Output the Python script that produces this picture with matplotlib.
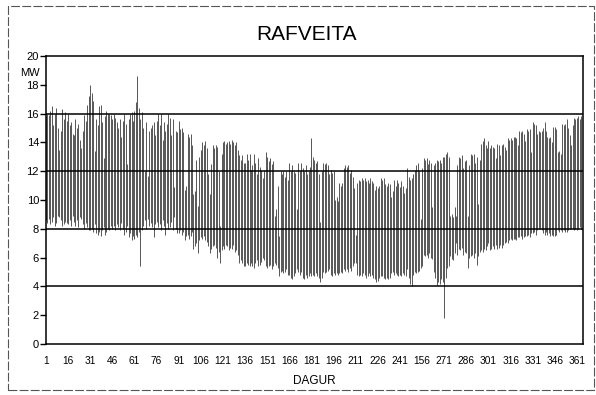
import matplotlib
matplotlib.use("Agg")
import matplotlib.pyplot as plt
import numpy as np
from matplotlib.patches import Rectangle

# daily max / min load (MW), 15 days per row
day_max = [
    15.8, 16.0, 15.9, 16.2, 16.5, 15.2, 16.0, 16.4, 15.0, 13.5, 14.8, 16.3, 15.6, 16.1, 15.5,
    16.0, 15.2, 15.4, 14.6, 14.5, 15.6, 15.0, 15.3, 14.2, 13.6, 14.8, 15.9, 15.5, 16.6, 17.2,
    18.0, 17.4, 16.9, 13.4, 15.6, 15.2, 16.5, 16.6, 15.4, 12.9, 15.8, 16.2, 16.0, 16.0, 15.9,
    15.6, 16.0, 15.7, 15.4, 15.0, 15.6, 14.4, 15.5, 16.0, 15.3, 12.5, 15.6, 16.0, 16.1, 15.5,
    16.2, 16.8, 18.6, 16.4, 15.6, 16.1, 15.0, 12.0, 15.4, 11.7, 14.8, 15.0, 15.2, 15.4, 14.5,
    15.5, 16.0, 15.2, 16.0, 14.2, 15.4, 14.8, 15.3, 16.0, 15.7, 14.5, 15.6, 10.9, 14.8, 14.7,
    15.5, 14.9, 15.0, 14.7, 10.7, 11.0, 14.6, 14.4, 14.6, 13.8, 10.4, 10.6, 12.8, 9.6, 13.0,
    13.5, 14.0, 13.8, 14.1, 13.6, 11.8, 10.4, 12.5, 13.8, 13.6, 13.8, 13.7, 12.0, 8.2, 13.2,
    14.0, 14.1, 13.9, 14.0, 14.1, 13.9, 14.2, 14.0, 13.8, 14.0, 13.5, 13.1, 12.8, 13.1, 12.6,
    12.6, 13.2, 12.8, 13.2, 12.1, 12.4, 13.2, 12.6, 11.8, 12.9, 12.3, 12.1, 11.5, 12.1, 13.3,
    13.0, 12.7, 12.9, 12.5, 12.7, 8.9, 9.4, 11.0, 7.5, 12.0, 11.8, 12.0, 11.6, 12.0, 11.4,
    12.6, 12.0, 12.4, 12.0, 11.9, 9.4, 12.6, 12.0, 12.6, 12.2, 12.0, 12.4, 11.8, 12.0, 12.3,
    14.3, 13.0, 12.8, 12.6, 12.7, 11.8, 8.5, 12.0, 12.6, 12.5, 12.6, 12.4, 11.8, 12.1, 11.9,
    12.0, 10.0, 10.2, 9.9, 11.2, 11.0, 11.2, 12.2, 12.4, 12.3, 12.4, 11.9, 12.1, 11.6, 10.8,
    7.6, 11.2, 11.4, 11.3, 11.5, 11.4, 11.5, 11.3, 11.4, 11.2, 11.5, 11.3, 11.2, 10.7, 11.0,
    10.8, 11.0, 11.5, 11.4, 11.5, 11.1, 11.0, 11.2, 11.1, 10.2, 10.6, 11.4, 11.0, 11.4, 11.2,
    10.9, 11.3, 11.0, 10.5, 10.8, 12.2, 11.6, 11.4, 11.5, 11.8, 12.1, 12.4, 12.6, 12.0, 8.7,
    12.2, 12.9, 12.8, 12.9, 12.5, 12.8, 12.6, 9.5, 12.4, 12.6, 12.8, 12.7, 12.8, 12.6, 13.0,
    13.0, 13.2, 13.3, 13.0, 8.9, 9.0, 8.8, 9.5, 8.9, 12.4, 13.0, 12.9, 13.1, 12.2, 12.7,
    12.8, 8.9, 12.4, 13.2, 13.1, 13.2, 12.6, 13.0, 9.7, 12.8, 13.9, 14.1, 14.3, 13.8, 13.6,
    14.1, 13.6, 13.8, 13.7, 13.6, 12.9, 13.9, 13.8, 13.1, 13.8, 13.9, 13.7, 13.5, 14.3, 14.2,
    14.3, 14.2, 14.4, 14.4, 14.3, 13.8, 14.8, 14.7, 14.8, 14.6, 14.1, 14.9, 14.8, 14.9, 13.3,
    15.4, 15.3, 15.2, 14.6, 14.8, 14.7, 14.8, 15.0, 15.4, 14.8, 14.4, 14.3, 14.4, 14.0, 15.1,
    15.1, 14.9, 13.3, 13.4, 13.2, 15.3, 15.2, 15.3, 15.6, 15.0, 14.5, 13.8, 15.2, 15.7, 15.6,
    15.7, 15.8, 15.6, 15.8, 16.0,
]

day_min = [
    8.6, 8.4, 8.7, 8.3, 8.5, 8.8, 8.2, 8.4, 8.9, 8.8, 8.6, 8.2, 8.3, 8.5, 8.4,
    8.3, 8.6, 8.2, 8.9, 8.5, 8.2, 8.6, 8.1, 8.8, 8.7, 8.3, 8.0, 8.4, 8.1, 7.9,
    7.9, 8.0, 7.8, 8.3, 7.7, 7.6, 7.8, 7.5, 7.9, 8.1, 7.6, 7.8, 8.0, 7.9, 8.2,
    8.0, 8.2, 7.9, 8.3, 8.1, 7.9, 8.4, 8.0, 7.6, 7.8, 8.2, 7.4, 7.7, 7.2, 7.5,
    7.3, 7.6, 7.4, 7.8, 5.4, 7.9, 8.2, 8.6, 8.0, 8.7, 8.2, 8.4, 8.1, 7.4, 8.3,
    8.5, 8.1, 8.3, 7.9, 8.6, 8.2, 7.6, 8.4, 8.0, 8.1, 8.5, 7.9, 8.8, 8.0, 7.7,
    7.7, 7.9, 7.6, 7.8, 7.2, 7.5, 7.6, 7.3, 7.5, 7.8, 6.6, 6.8, 7.0, 6.3, 7.2,
    7.4, 7.3, 7.5, 7.2, 7.1, 6.8, 6.3, 6.6, 6.8, 6.9, 6.7, 6.0, 6.4, 5.6, 6.5,
    6.8, 6.6, 6.9, 6.8, 6.5, 6.7, 6.6, 6.9, 6.4, 6.5, 6.2, 5.6, 5.8, 5.6, 5.4,
    5.4, 5.6, 5.5, 5.4, 5.6, 5.4, 5.3, 5.6, 5.8, 5.4, 5.5, 5.7, 6.0, 5.8, 5.4,
    5.3, 5.4, 5.5, 5.2, 5.4, 5.6, 5.5, 5.3, 4.7, 5.0, 5.1, 4.9, 5.0, 5.2, 4.8,
    4.8, 4.6, 4.5, 4.7, 4.9, 5.2, 5.0, 4.8, 5.0, 4.6, 4.5, 4.8, 4.6, 4.7, 4.9,
    4.7, 4.8, 4.7, 4.9, 4.7, 4.6, 4.3, 4.6, 5.0, 4.9, 5.0, 5.1, 5.2, 4.8, 4.7,
    4.9, 4.8, 4.9, 4.8, 4.9, 5.0, 4.9, 5.2, 5.1, 5.2, 5.0, 5.3, 5.1, 5.4, 5.6,
    5.6, 4.8, 4.7, 4.8, 4.7, 4.9, 4.8, 4.6, 4.7, 4.9, 4.7, 4.8, 4.6, 4.5, 4.3,
    4.4, 4.6, 4.7, 4.7, 4.6, 4.5, 4.6, 4.5, 4.6, 4.9, 5.0, 4.8, 4.9, 4.8, 4.7,
    4.8, 4.7, 4.9, 4.8, 4.7, 5.2, 4.6, 4.2, 4.0, 4.8, 5.0, 4.9, 5.0, 5.1, 5.3,
    5.4, 6.2, 6.1, 6.2, 6.0, 6.3, 6.0, 5.9, 5.0, 4.6, 4.1, 4.3, 4.2, 4.5, 4.3,
    1.8, 4.6, 5.3, 5.4, 6.1, 5.9, 5.8, 6.3, 7.0, 6.2, 6.6, 6.5, 6.7, 6.2, 6.4,
    6.3, 5.3, 6.0, 6.1, 6.2, 6.0, 6.3, 5.5, 6.1, 6.4, 6.5, 6.4, 6.6, 6.5, 6.8,
    7.0, 6.5, 6.6, 6.8, 6.6, 6.9, 6.6, 6.7, 6.9, 6.7, 6.9, 7.0, 7.1, 7.0, 7.2,
    7.3, 7.2, 7.3, 7.3, 7.2, 7.4, 7.4, 7.5, 7.3, 7.4, 7.5, 7.5, 7.6, 7.4, 7.7,
    7.7, 7.8, 7.6, 7.9, 8.0, 8.0, 7.9, 7.7, 7.6, 7.8, 7.6, 7.7, 7.5, 7.6, 7.5,
    7.5, 7.6, 7.9, 7.8, 7.9, 7.8, 7.9, 7.8, 7.8, 7.9, 8.0, 8.0, 8.0, 7.9, 8.0,
    7.9, 8.0, 8.1, 8.0, 8.0,
]

tick_days = [1, 16, 31, 46, 61, 76, 91, 106, 121, 136, 151, 166, 181,
             196, 211, 226, 241, 256, 271, 286, 301, 316, 331, 346, 361]
# the printed chart has "156" where 256 belongs
tick_labels = ["1", "16", "31", "46", "61", "76", "91", "106", "121", "136", "151",
               "166", "181", "196", "211", "226", "241", "156", "271", "286",
               "301", "316", "331", "346", "361"]
grid_levels = [4, 8, 12, 16]

plt.rcParams["font.family"] = ["Liberation Sans", "DejaVu Sans"]

fig = plt.figure(figsize=(5.96, 3.95), dpi=100)
ax = fig.add_axes([46 / 596, 1 - 344 / 395, 537 / 596, 288 / 395])

days = np.arange(1, len(day_max) + 1)
ax.vlines(days, day_min, day_max, colors="#2a2a2a", linewidth=0.55)

for lvl in grid_levels:
    ax.axhline(lvl, color="black", linewidth=1.1, zorder=3)

ax.set_xlim(1, 365.1)
ax.set_ylim(0, 20)
ax.set_yticks(range(0, 21, 2))
ax.set_xticks(tick_days)
ax.set_xticklabels(tick_labels)
ax.tick_params(axis="y", length=4, width=1, labelsize=8, pad=1)
ax.tick_params(axis="x", length=0, labelsize=7.3, pad=9)
for spine in ax.spines.values():
    spine.set_linewidth(1.1)

ax.set_xlabel("DAGUR", fontsize=8.5, labelpad=6)
fig.text(30 / 596, 1 - 73 / 395, "MW", fontsize=8, ha="center", va="center")
fig.text(307 / 596, 1 - 34 / 395, "RAFVEITA", fontsize=15, ha="center", va="center")

# outer frame of the scanned page
fig.patches.append(Rectangle((8 / 596, 5 / 395), 586 / 596, 384 / 395,
                             transform=fig.transFigure, fill=False,
                             edgecolor="#555555", linewidth=0.8,
                             linestyle=(0, (8, 2))))

fig.savefig("out.png", dpi=100)
